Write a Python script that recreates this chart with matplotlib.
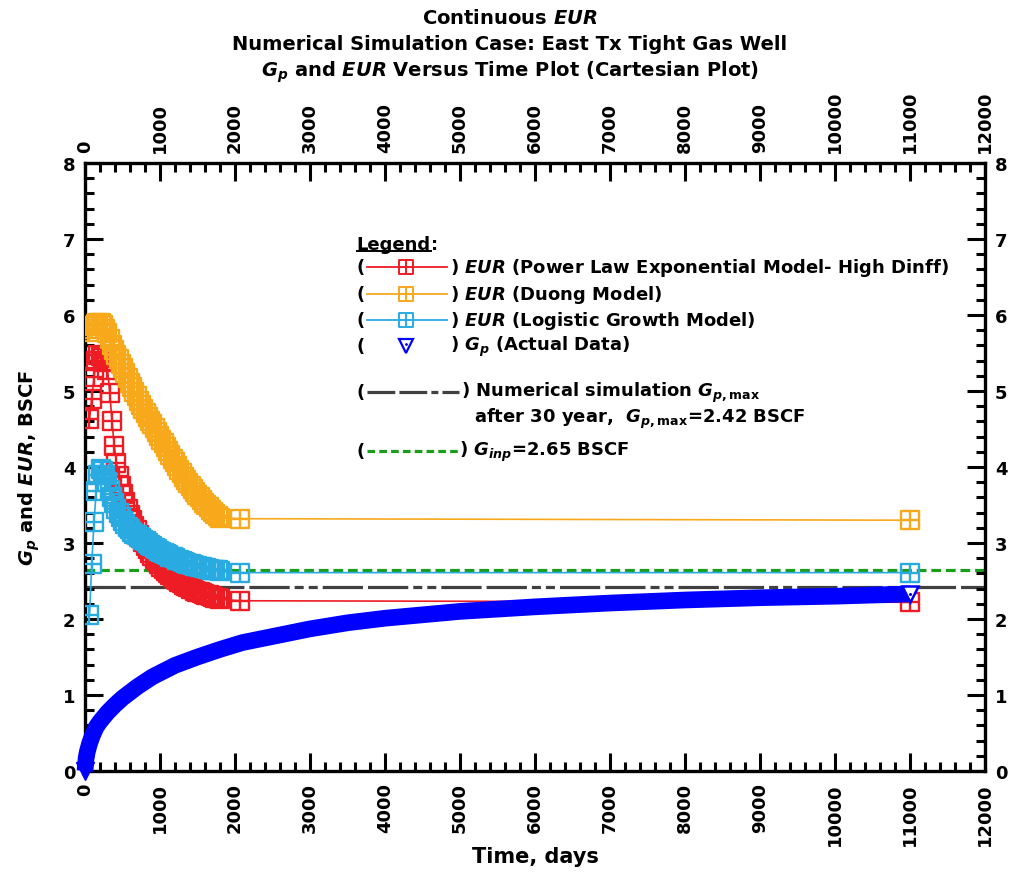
import matplotlib
matplotlib.use("Agg")
import matplotlib.pyplot as plt
from matplotlib.path import Path
from matplotlib.ticker import MultipleLocator

plt.rcParams['font.family'] = ['DejaVu Sans']
plt.rcParams['font.weight'] = 'bold'
plt.rcParams['axes.labelweight'] = 'bold'
plt.rcParams['mathtext.fontset'] = 'custom'
plt.rcParams['mathtext.rm'] = 'DejaVu Sans:bold'
plt.rcParams['mathtext.it'] = 'DejaVu Sans:italic:bold'
plt.rcParams['mathtext.bf'] = 'DejaVu Sans:bold'
plt.rcParams['lines.scale_dashes'] = False

# --- data (days, BSCF) ---
t_eur = [60, 90, 120, 150, 180, 210, 240, 270, 300, 330,
         360, 390, 420, 450, 480, 510, 540, 570, 600, 630,
         660, 690, 720, 750, 780, 810, 840, 870, 900, 930,
         960, 990, 1020, 1050, 1080, 1110, 1140, 1170, 1200, 1230,
         1260, 1290, 1320, 1350, 1380, 1410, 1440, 1470, 1500, 1530,
         1560, 1590, 1620, 1650, 1680, 1710, 1740, 1770, 1800,
         2070, 11000]

eur_ple = [4.63, 4.90, 5.18, 5.40, 5.47, 5.46, 5.43, 5.38, 5.28, 4.98,
           4.60, 4.28, 4.05, 3.88, 3.75, 3.64, 3.54, 3.45, 3.37, 3.30,
           3.23, 3.17, 3.11, 3.06, 3.01, 2.96, 2.92, 2.87, 2.83, 2.79,
           2.76, 2.72, 2.69, 2.66, 2.63, 2.60, 2.58, 2.55, 2.53, 2.51,
           2.49, 2.47, 2.45, 2.43, 2.42, 2.40, 2.39, 2.37, 2.36, 2.35,
           2.34, 2.33, 2.32, 2.31, 2.30, 2.29, 2.28, 2.27, 2.26,
           2.24, 2.22]

eur_duong = [5.78, 5.82, 5.86, 5.88, 5.89, 5.89, 5.87, 5.82, 5.76, 5.68,
             5.60, 5.54, 5.48, 5.42, 5.36, 5.30, 5.24, 5.17, 5.11, 5.05,
             4.99, 4.93, 4.87, 4.82, 4.76, 4.71, 4.66, 4.61, 4.56, 4.51,
             4.46, 4.41, 4.36, 4.31, 4.26, 4.21, 4.16, 4.11, 4.06, 4.01,
             3.96, 3.92, 3.87, 3.83, 3.79, 3.75, 3.71, 3.67, 3.63, 3.60,
             3.56, 3.53, 3.50, 3.47, 3.44, 3.41, 3.38, 3.35, 3.33,
             3.32, 3.30]

eur_lgm = [2.05, 2.72, 3.28, 3.68, 3.90, 3.97, 3.95, 3.89, 3.80, 3.70,
           3.60, 3.52, 3.45, 3.39, 3.34, 3.29, 3.25, 3.21, 3.18, 3.15,
           3.12, 3.10, 3.08, 3.06, 3.04, 3.02, 3.00, 2.98, 2.96, 2.94,
           2.92, 2.90, 2.88, 2.87, 2.85, 2.84, 2.82, 2.81, 2.80, 2.78,
           2.77, 2.76, 2.75, 2.74, 2.73, 2.72, 2.71, 2.70, 2.70, 2.69,
           2.68, 2.67, 2.67, 2.66, 2.65, 2.65, 2.64, 2.64, 2.63,
           2.61, 2.61]

t_gp = [0, 15, 30, 60, 100, 150, 200, 300, 400, 500, 700, 900, 1200, 1500,
        1800, 2100, 2500, 3000, 3500, 4000, 5000, 6000, 7000, 8000, 9000,
        10000, 11000]
gp_actual = [0.0, 0.17, 0.25, 0.36, 0.47, 0.58, 0.65, 0.77, 0.87, 0.96, 1.11,
             1.24, 1.39, 1.50, 1.60, 1.69, 1.77, 1.87, 1.95, 2.01, 2.10, 2.16,
             2.21, 2.25, 2.28, 2.30, 2.33]

gp_max = 2.42
g_inp = 2.65

RED, ORANGE, CYAN, BLUE = '#ee1c24', '#f7a81b', '#29abe2', '#0000ff'
GRAY, GREEN = '#404040', '#1a9e1a'

box_plus = Path([(-1, -1), (1, -1), (1, 1), (-1, 1), (-1, -1),
                 (0, -1), (0, 1), (-1, 0), (1, 0)],
                [Path.MOVETO, Path.LINETO, Path.LINETO, Path.LINETO, Path.CLOSEPOLY,
                 Path.MOVETO, Path.LINETO, Path.MOVETO, Path.LINETO])
gray_dash = (0, (29, 3.6, 29, 3.6, 6.5, 3.6, 6.5, 3.6))
green_dash = (0, (7, 3.5))

fig = plt.figure(figsize=(10.2, 8.79), dpi=100)
ax = fig.add_axes([85 / 1020, 107 / 879, 900 / 1020, 608 / 879])

ax.axhline(gp_max, color=GRAY, lw=2.3, ls=gray_dash, zorder=1)
ax.axhline(g_inp, color=GREEN, lw=2.3, ls=green_dash, zorder=1)

mk = dict(marker=box_plus, ms=12.5, mfc='none', mew=1.7, lw=1.2)
ax.plot(t_eur, eur_ple, color=RED, mec=RED, zorder=3, **mk)
ax.plot(t_eur, eur_duong, color=ORANGE, mec=ORANGE, zorder=3, **mk)
ax.plot(t_eur, eur_lgm, color=CYAN, mec=CYAN, zorder=3, **mk)

ax.plot(t_gp, gp_actual, color=BLUE, lw=12, solid_capstyle='butt',
        marker='v', markevery=[0], ms=13, mfc=BLUE, mec=BLUE, clip_on=False, zorder=4)
ax.plot(t_gp[-1:], gp_actual[-1:], ls='none', marker='v', ms=12, mfc='white',
        mec=BLUE, mew=1.8, zorder=5)
ax.plot(t_gp[-1:], gp_actual[-1:], ls='none', marker='.', ms=2.5, color=BLUE, zorder=6)

ax.set_xlim(0, 12000)
ax.set_ylim(0, 8)
ax.xaxis.set_major_locator(MultipleLocator(1000))
ax.xaxis.set_minor_locator(MultipleLocator(200))
ax.yaxis.set_major_locator(MultipleLocator(1))
ax.yaxis.set_minor_locator(MultipleLocator(0.2))
ax.tick_params(which='both', direction='in', top=True, right=True,
               labeltop=True, labelright=True, width=2.2, labelsize=13)
ax.tick_params(which='major', length=13, pad=7)
ax.tick_params(which='minor', length=6.5)
ax.tick_params(axis='x', labelrotation=90, pad=8)
for s in ax.spines.values():
    s.set_linewidth(2.4)

ax.set_xlabel('Time, days', fontsize=15, labelpad=1)
ax.set_ylabel(r'$G_p$ and $EUR$, BSCF', fontsize=14, labelpad=15)

fig.text(0.5, 1 - 19 / 879, r'Continuous $EUR$', ha='center', va='center', fontsize=14)
fig.text(0.5, 1 - 45 / 879, 'Numerical Simulation Case: East Tx Tight Gas Well',
         ha='center', va='center', fontsize=14)
fig.text(0.5, 1 - 72 / 879, r'$G_p$ and $EUR$ Versus Time Plot (Cartesian Plot)',
         ha='center', va='center', fontsize=14)

# --- hand-built legend ---
tr = ax.transAxes
fs = 13
leg_word = ax.text(0.302, 0.867, 'Legend', transform=tr, fontsize=fs, va='center')
fig.canvas.draw()
bb = leg_word.get_window_extent().transformed(tr.inverted())
ax.text(bb.x1, 0.867, ':', transform=tr, fontsize=fs, va='center')
ax.plot([bb.x0, bb.x1], [bb.y0 + 0.003, bb.y0 + 0.003], transform=tr, color='black', lw=1.4)

rows = [(0.829, RED, r'$EUR$ (Power Law Exponential Model- High Dinff)'),
        (0.785, ORANGE, r'$EUR$ (Duong Model)'),
        (0.742, CYAN, r'$EUR$ (Logistic Growth Model)')]
for y, c, lab in rows:
    ax.text(0.302, y, '(', transform=tr, fontsize=fs, va='center')
    ax.plot([0.313, 0.402], [y, y], transform=tr, color=c, lw=1.3, clip_on=False)
    ax.plot([0.357], [y], transform=tr, marker=box_plus, ms=9.5, mfc='white', mec=c, mew=1.4)
    ax.text(0.405, y, ') ' + lab, transform=tr, fontsize=fs, va='center')
y = 0.699
ax.text(0.302, y, '(', transform=tr, fontsize=fs, va='center')
ax.plot([0.357], [y], transform=tr, marker='v', ms=10, mfc='white', mec=BLUE, mew=1.6)
ax.plot([0.357], [y + 0.004], transform=tr, marker='.', ms=2, color=BLUE)
ax.text(0.405, y, r') $G_p$ (Actual Data)', transform=tr, fontsize=fs, va='center')

y = 0.623
ax.text(0.302, y, '(', transform=tr, fontsize=fs, va='center')
ax.plot([0.313, 0.416], [y, y], transform=tr, color=GRAY, lw=2.3,
        ls=(0, (20, 3, 20, 3, 5, 3)))
ax.text(0.418, y, r') Numerical simulation $G_{p,\mathrm{max}}$', transform=tr,
        fontsize=fs, va='center')
ax.text(0.432, 0.581, r'after 30 year,  $G_{p,\mathrm{max}}$=2.42 BSCF', transform=tr,
        fontsize=fs, va='center')
y = 0.526
ax.text(0.302, y, '(', transform=tr, fontsize=fs, va='center')
ax.plot([0.313, 0.414], [y, y], transform=tr, color=GREEN, lw=2.3, ls=(0, (5.5, 3)))
ax.text(0.416, y, r') $G_{inp}$=2.65 BSCF', transform=tr, fontsize=fs, va='center')

fig.savefig('out.png', dpi=100)
